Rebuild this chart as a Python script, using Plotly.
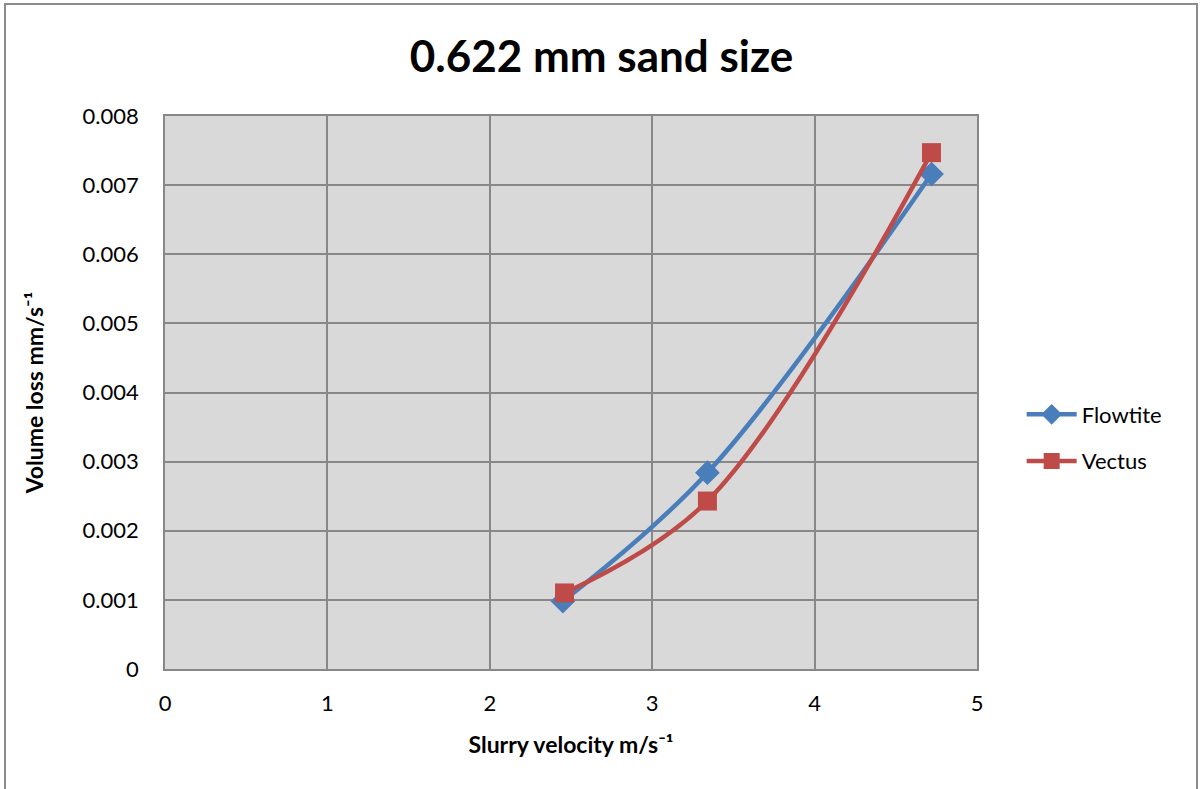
import plotly.graph_objects as go

# Data
series_names = ["Flowtite", "Vectus"]
flowtite_x = [2.45, 3.34, 4.72]
flowtite_y = [0.00098, 0.00284, 0.00716]
vectus_x = [2.46, 3.34, 4.72]
vectus_y = [0.00110, 0.00243, 0.00747]
x_ticks = [0, 1, 2, 3, 4, 5]
y_ticks = [0, 0.001, 0.002, 0.003, 0.004, 0.005, 0.006, 0.007, 0.008]
y_tick_labels = ["0", "0.001", "0.002", "0.003", "0.004", "0.005", "0.006", "0.007", "0.008"]

FONT = "Lato, Open Sans, sans-serif"
BLUE = "#4A7EBB"
RED = "#BE4B48"
GRID = "#888888"

fig = go.Figure()
fig.add_trace(go.Scatter(
    x=flowtite_x, y=flowtite_y, name=series_names[0], mode="lines+markers",
    legendgroup="g1",
    line=dict(color=BLUE, width=4.5, shape="spline", smoothing=1.0),
    marker=dict(symbol="diamond", size=19, color=BLUE),
))
fig.add_trace(go.Scatter(
    x=vectus_x, y=vectus_y, name=series_names[1], mode="lines+markers",
    legendgroup="g2",
    line=dict(color=RED, width=4.5, shape="spline", smoothing=1.0),
    marker=dict(symbol="square", size=19, color=RED),
))

fig.update_layout(
    width=1203, height=789,
    margin=dict(l=165, r=226, t=116, b=120),
    paper_bgcolor="white",
    plot_bgcolor="#D9D9D9",
    font=dict(family=FONT, size=22, color="black"),
    title=dict(text="<b>0.622 mm sand size</b>", x=0.5, xanchor="center",
               y=1 - 57 / 789, yanchor="middle",
               font=dict(family=FONT, size=44, color="black")),
    legend=dict(x=1.055, y=(669 - 438) / 553, xanchor="left", yanchor="middle",
                font=dict(family=FONT, size=22), tracegroupgap=15,
                itemwidth=50, bgcolor="rgba(0,0,0,0)"),
    showlegend=True,
)

fig.update_xaxes(
    range=[0, 5], tickvals=x_ticks, ticktext=[str(t) for t in x_ticks],
    showgrid=True, gridcolor=GRID, gridwidth=1.5,
    zeroline=False, showline=True, linecolor=GRID, linewidth=1.5, mirror=True,
    ticks="", ticklabelstandoff=14,
    tickfont=dict(family=FONT, size=22),
    title=dict(text="<b>Slurry velocity m/s⁻¹</b>", standoff=22,
               font=dict(family=FONT, size=23)),
)
fig.update_yaxes(
    range=[0, 0.008], tickvals=y_ticks, ticktext=y_tick_labels,
    showgrid=True, gridcolor=GRID, gridwidth=1.5,
    zeroline=False, showline=True, linecolor=GRID, linewidth=1.5, mirror=True,
    ticks="", ticklabelstandoff=20,
    tickfont=dict(family=FONT, size=22),
    title=dict(text="<b>Volume loss mm/s⁻¹</b>", standoff=33,
               font=dict(family=FONT, size=23)),
)

# Outer chart border
fig.add_shape(type="rect", xref="paper", yref="paper",
              x0=(5 - 165) / 812, x1=(1197 - 165) / 812,
              y0=-0.4, y1=(669 - 4) / 553,
              line=dict(color="#8C8C8C", width=2), fillcolor="rgba(0,0,0,0)",
              layer="below")

fig.write_html("out.html")
